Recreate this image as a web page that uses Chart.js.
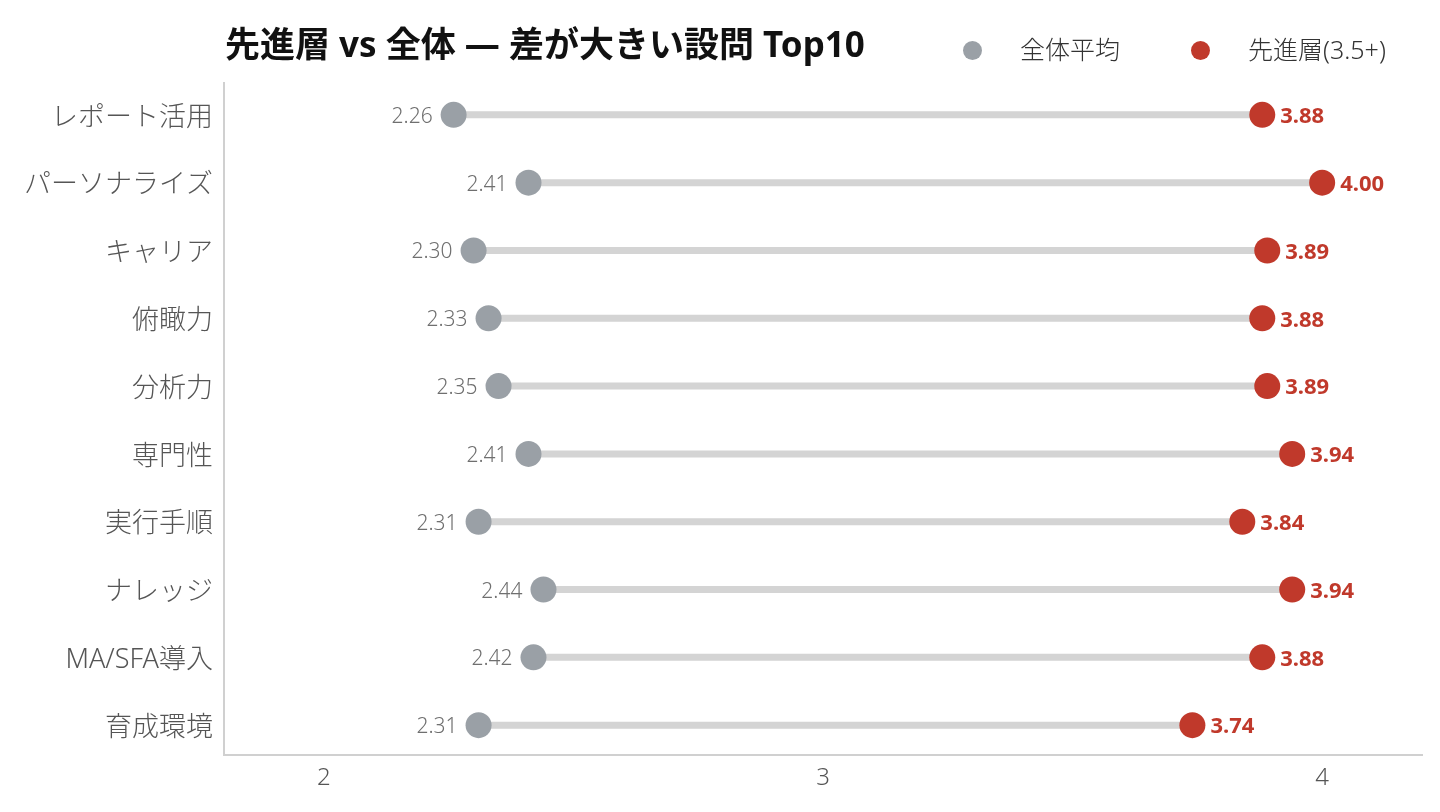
<!DOCTYPE html>
<html lang="ja">
<head>
<meta charset="utf-8">
<title>先進層 vs 全体 — 差が大きい設問 Top10</title>
<script src="https://cdn.jsdelivr.net/npm/chart.js@4.4.1/dist/chart.umd.min.js"></script>
<style>
  html, body { margin: 0; padding: 0; background: #fff; }
  body { font-family: "Noto Sans", "Noto Sans CJK JP", sans-serif; }
  #wrap { position: relative; width: 1440px; height: 812px; }
  #title {
    position: absolute; left: 225px; top: 16px;
    font-size: 35px; font-weight: 700; color: #111; white-space: nowrap;
  }
  .leg { position: absolute; top: 31px; font-size: 25px; font-weight: 300; color: #333; white-space: nowrap; line-height: 36px; }
  .leg i { position: absolute; top: 10px; width: 19px; height: 19px; border-radius: 50%; }
</style>
</head>
<body>
<div id="wrap">
  <canvas id="chart"></canvas>
  <div id="title">先進層 vs 全体 — 差が大きい設問 Top10</div>
  <div class="leg" style="left:1020px"><i style="left:-57px;background:#9aa0a6"></i>全体平均</div>
  <div class="leg" style="left:1248px"><i style="left:-57px;background:#c0392b"></i>先進層(3.5+)</div>
</div>
<script>
const CATEGORIES = ['レポート活用', 'パーソナライズ', 'キャリア', '俯瞰力', '分析力', '専門性', '実行手順', 'ナレッジ', 'MA/SFA導入', '育成環境'];
const OVERALL = [2.26, 2.41, 2.30, 2.33, 2.35, 2.41, 2.31, 2.44, 2.42, 2.31];
const ADVANCED = [3.88, 4.00, 3.89, 3.88, 3.89, 3.94, 3.84, 3.94, 3.88, 3.74];
const X_TICKS = [2, 3, 4];

const GREY = '#9aa0a6';
const RED = '#c0392b';
const FONT = '"Noto Sans", "Noto Sans CJK JP", sans-serif';

// one segment per row, broken by a null point
const segments = [];
CATEGORIES.forEach((c, i) => {
  segments.push({ x: OVERALL[i], y: i });
  segments.push({ x: ADVANCED[i], y: i });
  segments.push({ x: null, y: null });
});

// value text beside each dot
const valueLabels = {
  id: 'valueLabels',
  afterDatasetsDraw(chart) {
    const ctx = chart.ctx;
    ctx.save();
    ctx.textBaseline = 'middle';
    chart.getDatasetMeta(0).data.forEach((pt, i) => {
      ctx.font = '300 21px ' + FONT;
      ctx.fillStyle = '#6f6f6f';
      ctx.textAlign = 'right';
      ctx.fillText(OVERALL[i].toFixed(2), pt.x - 21, pt.y + 2);
    });
    chart.getDatasetMeta(1).data.forEach((pt, i) => {
      ctx.font = '700 22px ' + FONT;
      ctx.fillStyle = RED;
      ctx.textAlign = 'left';
      ctx.fillText(ADVANCED[i].toFixed(2), pt.x + 18, pt.y + 2);
    });
    ctx.restore();
  }
};

new Chart(document.getElementById('chart'), {
  type: 'scatter',
  data: {
    datasets: [
      {
        label: '全体平均',
        data: OVERALL.map((v, i) => ({ x: v, y: i })),
        backgroundColor: GREY,
        borderWidth: 0,
        pointRadius: 13,
        order: 0
      },
      {
        label: '先進層(3.5+)',
        data: ADVANCED.map((v, i) => ({ x: v, y: i })),
        backgroundColor: RED,
        borderWidth: 0,
        pointRadius: 13,
        order: 0
      },
      {
        label: 'gap',
        data: segments,
        showLine: true,
        spanGaps: false,
        borderColor: '#d4d4d4',
        borderWidth: 7,
        pointRadius: 0,
        order: 5
      }
    ]
  },
  options: {
    responsive: true,
    maintainAspectRatio: false,
    animation: false,
    events: [],
    layout: { padding: { top: 83, right: 18, left: 0, bottom: 0 } },
    plugins: {
      legend: { display: false },
      tooltip: { enabled: false }
    },
    scales: {
      x: {
        type: 'linear',
        min: 1.8,
        max: 4.2,
        afterBuildTicks: s => { s.ticks = X_TICKS.map(v => ({ value: v })); },
        afterFit: s => { s.height = 57; },
        grid: { display: false, drawTicks: false },
        border: { display: true, color: '#d0d0d0', width: 2 },
        ticks: {
          padding: 9,
          color: '#555',
          font: { family: FONT, size: 24, weight: '300' }
        }
      },
      y: {
        type: 'linear',
        reverse: true,
        min: -0.47,
        max: 9.44,
        afterBuildTicks: s => { s.ticks = CATEGORIES.map((c, i) => ({ value: i })); },
        afterFit: s => { s.width = 224; },
        grid: { display: false, drawTicks: false },
        border: { display: true, color: '#d0d0d0', width: 2 },
        ticks: {
          padding: 11,
          labelOffset: 3,
          color: '#555',
          font: { family: FONT, size: 27, weight: '300' },
          callback: v => CATEGORIES[v]
        }
      }
    }
  },
  plugins: [valueLabels]
});
</script>
</body>
</html>
